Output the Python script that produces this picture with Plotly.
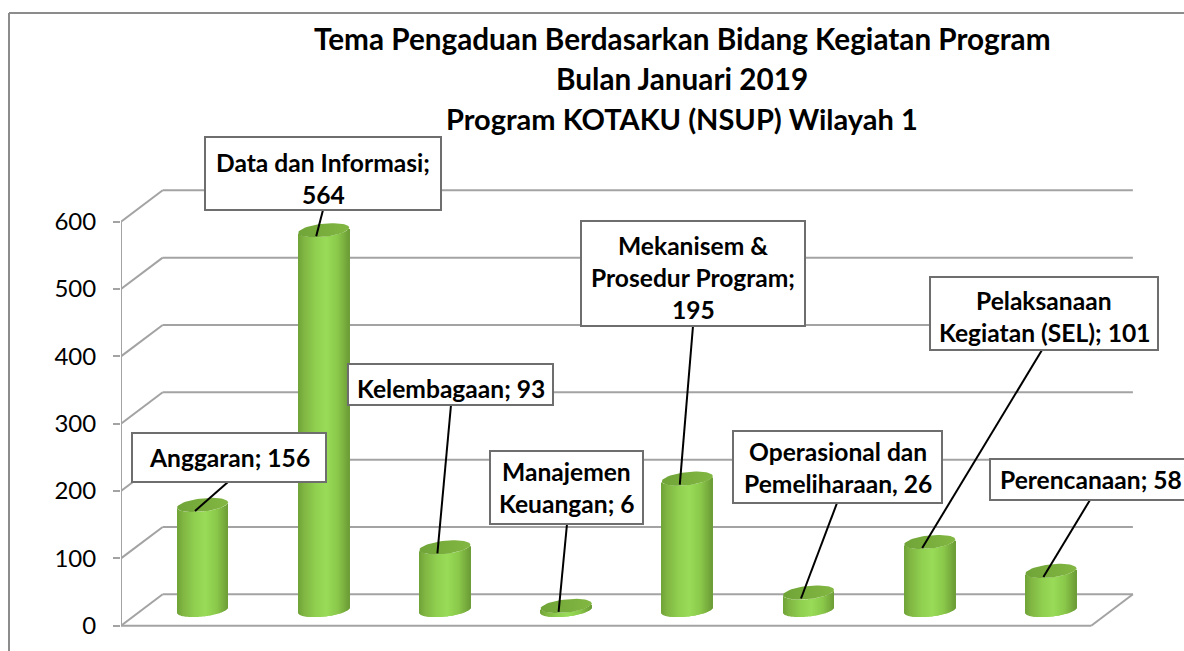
import math
import plotly.graph_objects as go

# ---- data ----
categories = ["Anggaran", "Data dan Informasi", "Kelembagaan", "Manajemen Keuangan",
              "Mekanisem & Prosedur Program", "Operasional dan Pemeliharaan",
              "Pelaksanaan Kegiatan (SEL)", "Perencanaan"]
values = [156, 564, 93, 6, 195, 26, 101, 58]
tick_values = [0, 100, 200, 300, 400, 500, 600]
title_lines = ["Tema Pengaduan Berdasarkan Bidang Kegiatan Program",
               "Bulan Januari 2019",
               "Program KOTAKU (NSUP) Wilayah 1"]
label_lines = [["Anggaran; 156"],
               ["Data dan Informasi;", "564"],
               ["Kelembagaan; 93"],
               ["Manajemen", "Keuangan; 6"],
               ["Mekanisem &", "Prosedur Program;", "195"],
               ["Operasional dan", "Pemeliharaan, 26"],
               ["Pelaksanaan", "Kegiatan (SEL); 101"],
               ["Perencanaan; 58"]]

# ---- layout geometry (pixels of the 1184x651 page) ----
W, H = 1184, 651
Y0_PX, Y600_PX = 625.7, 221.7
K = (Y0_PX - Y600_PX) / 600          # px per value unit
STEP = 121.2                         # px per category
C0_PX = 202.5                        # centre of first cylinder
AXIS_PX = 121
DEPTH_X, DEPTH_Y = 41.7, 31.4        # 3D wall offset
FLOOR_RIGHT_PX = 1091.2
BASE_PX = 610.0                      # centre of the cylinder foot
RADIUS = 25.5
MINOR = 6.6
TILT = 2.6
LEADER_DX, LEADER_DY = -7.5, 6.0

# label boxes: left, top, right, bottom
boxes = [(132, 433, 326, 482), (205, 137, 441, 210), (348, 364, 553, 405),
         (490, 451, 643, 524), (581, 221, 805, 326), (733, 431, 942, 503),
         (930, 277, 1158, 350), (990, 459, 1192, 500)]
label_dy = [0, 5, 4, 0, 4, 0, 3, 0]
# where each leader line leaves its box
leader_starts = [(228, 482), (323, 210), (451, 405), (567, 524),
                 (693, 326), (837, 503), (1042, 350), (1090, 500)]
TITLE_Y = [39, 79, 118]
TITLE_X = 682
TITLE_SIZES = [29.7, 29.7, 29]
LABEL_SPACING = 32
LABEL_SIZE = 24.6
TICK_SIZE = 24
GRID = "#a3a3a3"
FRAME = "#8c8c8c"
FONT = "Lato"


def xd(px):
    return (px - C0_PX) / STEP


def yd(py):
    return (Y0_PX - py) / K


BASE = yd(BASE_PX)


def lerp_color(stops, t):
    for (t0, c0), (t1, c1) in zip(stops, stops[1:]):
        if t <= t1:
            f = (t - t0) / (t1 - t0)
            return "rgb(%d,%d,%d)" % tuple(round(a + (b - a) * f) for a, b in zip(c0, c1))
    return "rgb(%d,%d,%d)" % stops[-1][1]


BODY_STOPS = [(0.0, (112, 162, 56)), (0.12, (128, 182, 66)), (0.35, (144, 208, 80)),
              (0.55, (153, 220, 88)), (0.78, (138, 200, 74)), (0.93, (118, 170, 60)),
              (1.0, (108, 156, 54))]

fig = go.Figure()

# cylinder bodies: vertical one-pixel strips, each one a bar as tall as the value
n_strips = int(2 * RADIUS)
for j in range(n_strips):
    dx = -RADIUS + j + 0.5
    u = dx / RADIUS
    lower = (TILT * u - MINOR * math.sqrt(max(0.0, 1 - u * u))) / K
    fig.add_trace(go.Bar(
        x=list(range(len(values))), y=values, base=[BASE + lower] * len(values),
        width=1 / STEP, offset=(dx - 0.5) / STEP,
        marker=dict(color=lerp_color(BODY_STOPS, (u + 1) / 2), line=dict(width=0)),
        showlegend=False, hoverinfo="skip"))

# cylinder caps
for i, v in enumerate(values):
    xs, ys = [], []
    for a in range(0, 361, 6):
        t = math.radians(a)
        xs.append(i + RADIUS * math.cos(t) / STEP)
        ys.append(BASE + v + (TILT * math.cos(t) + MINOR * math.sin(t)) / K)
    fig.add_trace(go.Scatter(
        x=xs, y=ys, mode="lines", fill="toself", line=dict(width=0),
        fillgradient=dict(type="horizontal",
                          colorscale=[[0, "#70a438"], [0.5, "#79ae3d"], [1, "#82b743"]]),
        showlegend=False, hoverinfo="skip"))

shapes = []
x_front, x_back = xd(AXIS_PX), xd(AXIS_PX + DEPTH_X)
x_right_front, x_right_back = xd(FLOOR_RIGHT_PX), xd(FLOOR_RIGHT_PX + DEPTH_X)
dy = DEPTH_Y / K
grid_line = dict(color=GRID, width=2)


def seg(x0, y0, x1, y1, line=grid_line, layer="below", ref="x"):
    shapes.append(dict(type="line", x0=x0, y0=y0, x1=x1, y1=y1, xref=ref,
                       yref="y" if ref == "x" else "paper", line=line, layer=layer))


for t in tick_values:
    seg(x_front, t, x_back, t + dy)
    seg(x_back, t + dy, x_right_back, t + dy)
seg(x_front, 0, x_front, tick_values[-1])
seg(x_front, 0, x_right_front, 0)
seg(x_right_front, 0, x_right_back, dy)

# leader lines, ending on the cap of their cylinder
leader = dict(color="black", width=2)
for i, v in enumerate(values):
    sx, sy = leader_starts[i]
    seg(xd(sx), yd(sy), i + LEADER_DX / STEP, BASE + v - LEADER_DY / K, line=leader, layer="above")

# label boxes
for l, t, r, b in boxes:
    shapes.append(dict(type="rect", xref="paper", yref="paper",
                       x0=l / W, x1=r / W, y0=1 - b / H, y1=1 - t / H,
                       fillcolor="white", line=dict(color="#6e6e6e", width=2), layer="above"))

# outer frame (only left and top edges fall inside the page)
frame = dict(color=FRAME, width=2)
seg(9 / W, 1 - 13 / H, 9 / W, 0, line=frame, ref="paper")
seg(9 / W, 1 - 13 / H, 1, 1 - 13 / H, line=frame, ref="paper")

annotations = []


def text(px, py, s, size):
    annotations.append(dict(xref="paper", yref="paper", x=px / W, y=1 - py / H, text="<b>%s</b>" % s,
                            showarrow=False, xanchor="center", yanchor="middle",
                            font=dict(family=FONT, size=size, color="black")))


for s, py, size in zip(title_lines, TITLE_Y, TITLE_SIZES):
    text(TITLE_X, py, s, size)
for lines, (l, t, r, b), shift in zip(label_lines, boxes, label_dy):
    cy = (t + b) / 2 + shift
    cx = (l + r) / 2
    for k, s in enumerate(lines):
        text(cx, cy + (k - (len(lines) - 1) / 2) * LABEL_SPACING, s, LABEL_SIZE)

fig.update_layout(
    width=W, height=H, margin=dict(l=0, r=0, t=0, b=0),
    paper_bgcolor="white", plot_bgcolor="white", barmode="overlay", showlegend=False,
    shapes=shapes, annotations=annotations,
    font=dict(family=FONT, color="black"),
    xaxis=dict(domain=[AXIS_PX / W, 1], range=[xd(AXIS_PX), xd(W)], visible=False, fixedrange=True),
    yaxis=dict(domain=[0, 1], range=[yd(H), yd(0)], tickmode="array", tickvals=tick_values,
               showgrid=False, zeroline=False, showline=False, ticks="outside", ticklen=7,
               tickwidth=2, tickcolor=GRID, ticklabelstandoff=12,
               tickfont=dict(family=FONT, size=TICK_SIZE, color="black"), fixedrange=True),
)

fig.write_html("out.html", config={"displayModeBar": False},
               post_script="document.body.style.margin='0';document.body.style.overflow='hidden';")
